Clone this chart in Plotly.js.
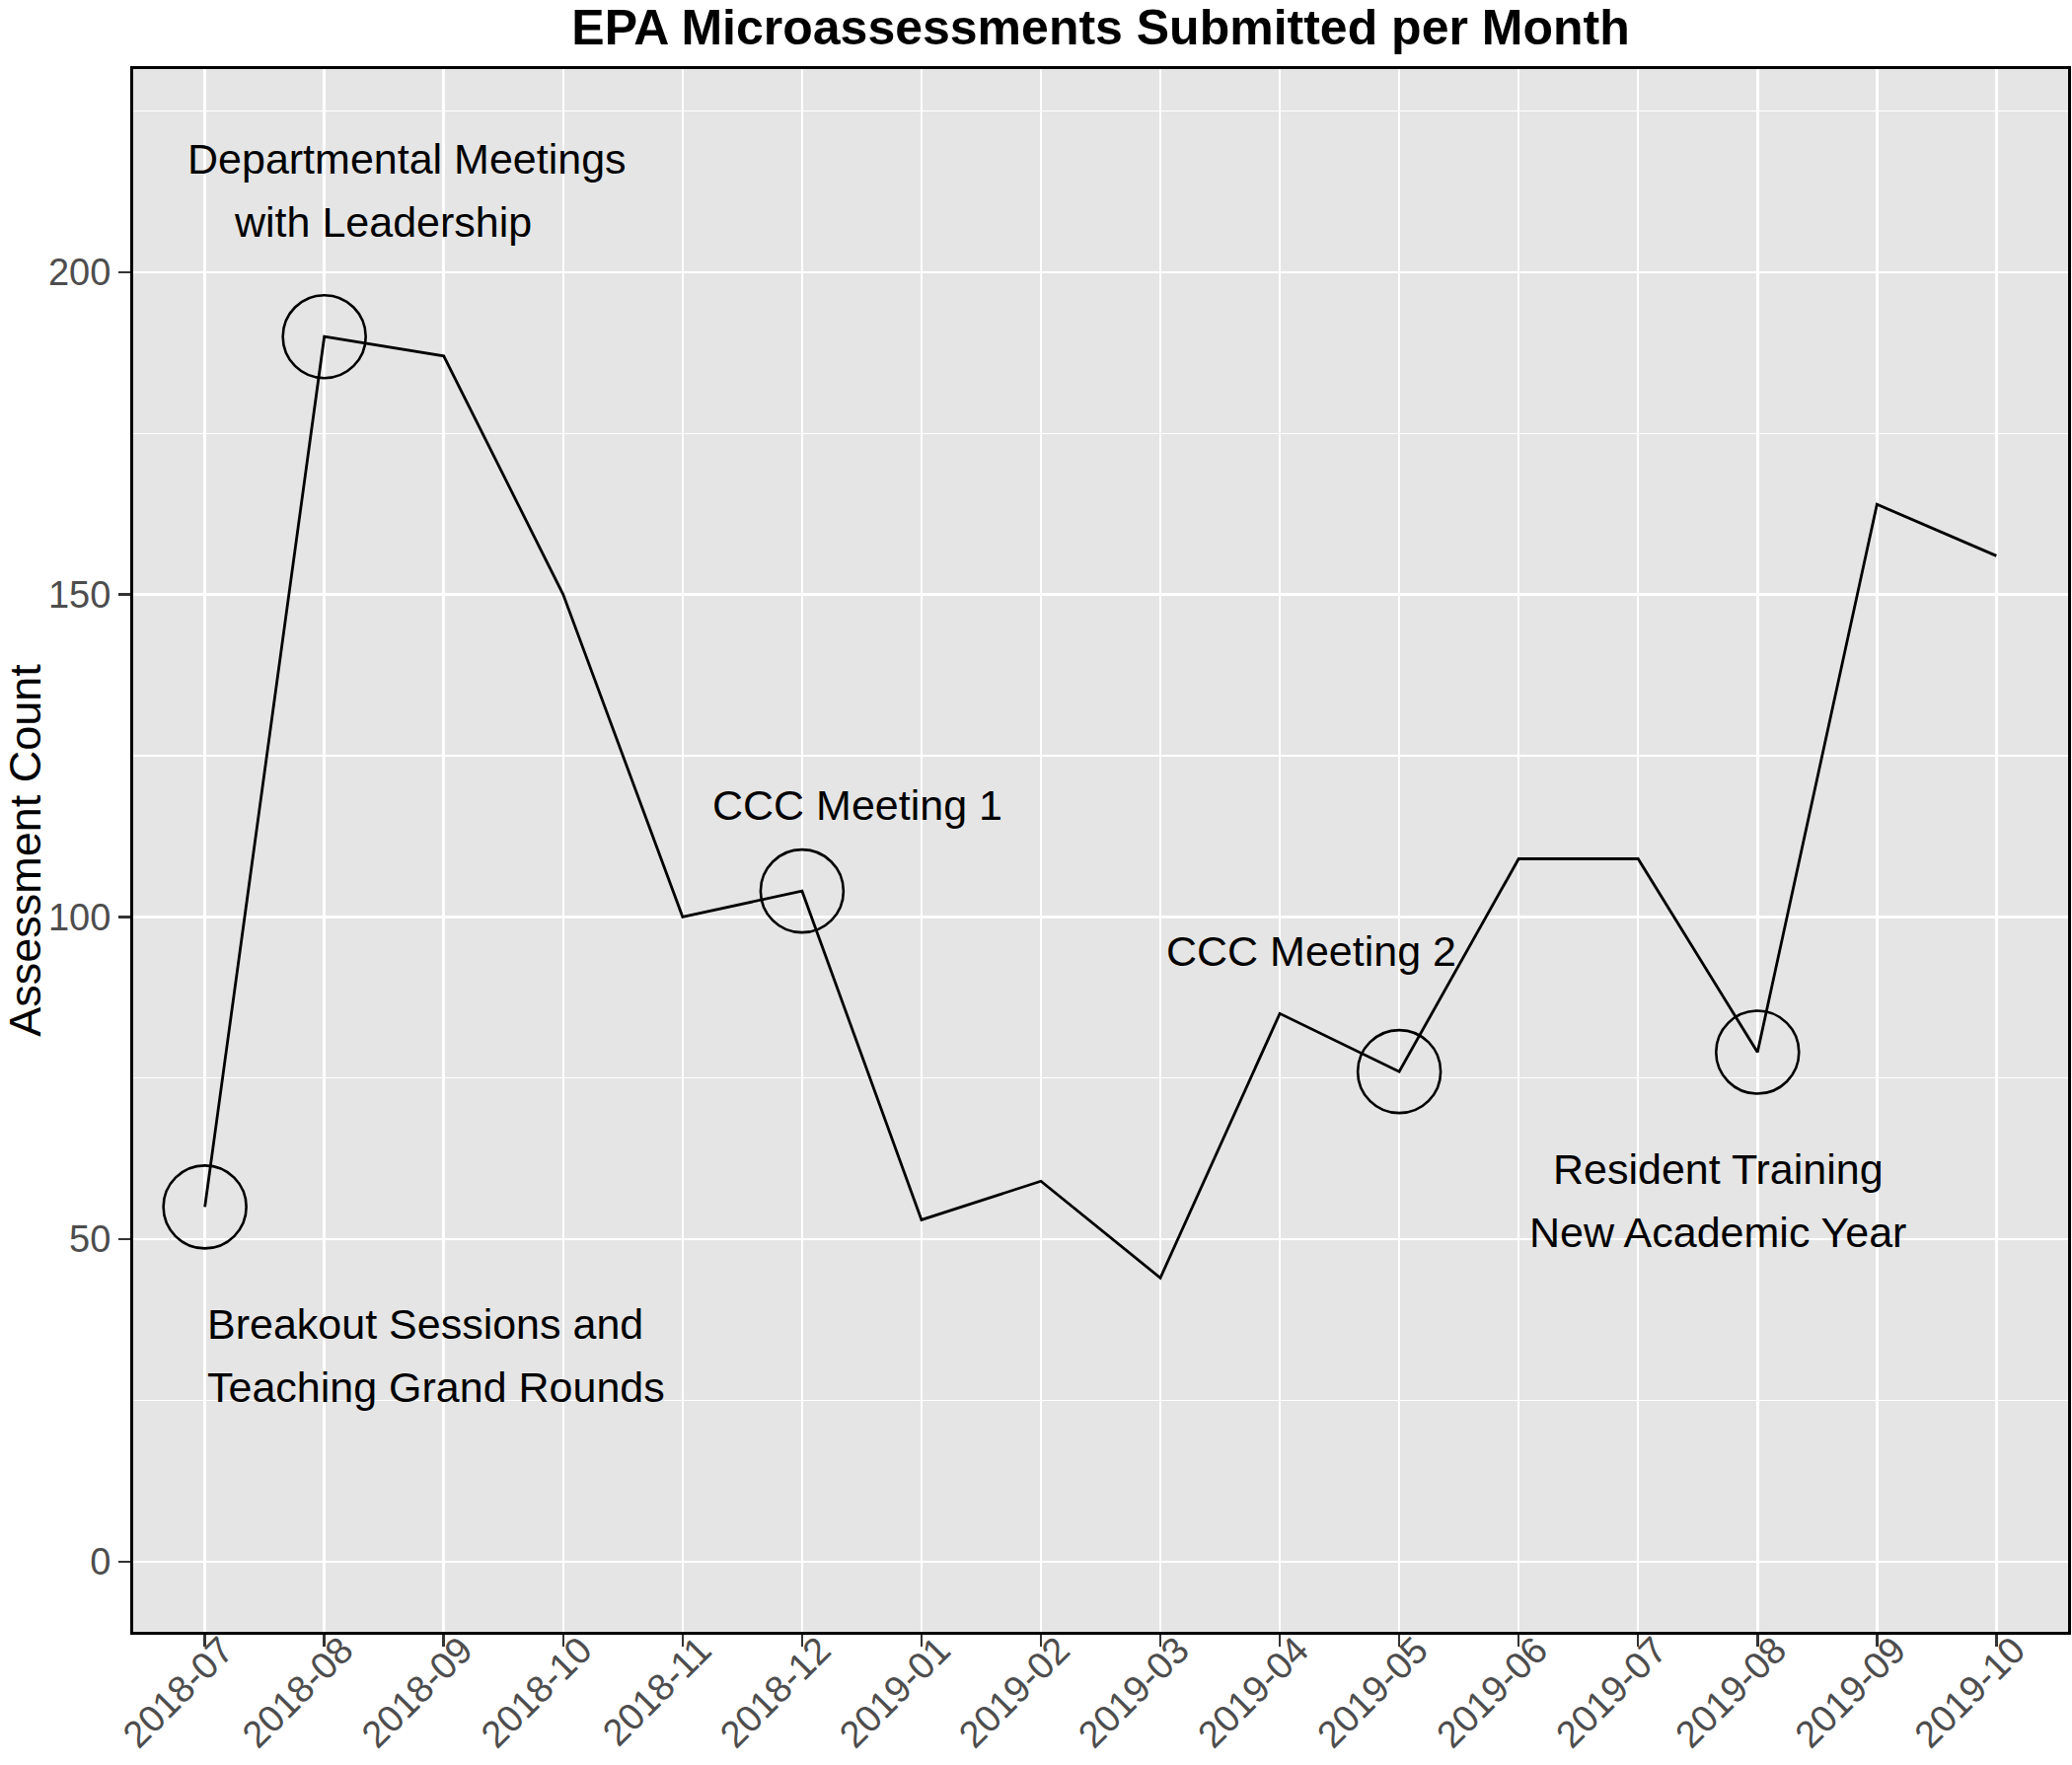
<!DOCTYPE html>
<html>
<head>
<meta charset="utf-8">
<script src="https://cdn.plot.ly/plotly-3.0.1.min.js"></script>
<style>
  html, body { margin: 0; padding: 0; background: #ffffff; }
  #chart { width: 2100px; height: 1789px; }
</style>
</head>
<body>
<div id="chart"></div>
<script>
// ---- data ----
const months = ['2018-07','2018-08','2018-09','2018-10','2018-11','2018-12','2019-01','2019-02',
                '2019-03','2019-04','2019-05','2019-06','2019-07','2019-08','2019-09','2019-10'];
const counts = [55, 190, 187, 150, 100, 104, 53, 59, 44, 85, 76, 109, 109, 79, 164, 156];
const highlightMonths = ['2018-07','2018-08','2018-12','2019-05','2019-08'];
const highlightCounts = highlightMonths.map(m => counts[months.indexOf(m)]);
const yTicks = [0, 50, 100, 150, 200];

const titleText = 'EPA Microassessments Submitted per Month';
const yTitle = 'Assessment Count';
const noteLines = ['Departmental Meetings', 'with Leadership',
                   'Breakout Sessions and', 'Teaching Grand Rounds',
                   'CCC Meeting 1', 'CCC Meeting 2',
                   'Resident Training', 'New Academic Year'];

// ---- layout helpers (positions of labels, not data) ----
const FONT = 'Liberation Sans, Arial, Helvetica, sans-serif';
const notePos = [
  {x: 1.69, y: 217.5, xa: 'center'},
  {x: 1.49, y: 207.8, xa: 'center'},
  {x: 0.0,  y: 36.8,  xa: 'left'},
  {x: 0.0,  y: 27.1,  xa: 'left'},
  {x: 5.46, y: 117.3, xa: 'center'},
  {x: 9.26, y: 94.7,  xa: 'center'},
  {x: 12.67, y: 60.8, xa: 'center'},
  {x: 12.67, y: 51.1, xa: 'center'}
];

const annotations = noteLines.map((t, i) => ({
  text: t,
  xref: 'x', yref: 'y',
  x: notePos[i].x, y: notePos[i].y,
  xanchor: notePos[i].xa, yanchor: 'middle',
  showarrow: false,
  font: {family: FONT, size: 43, color: '#000000'}
}));

const traces = [
  {
    type: 'scatter', mode: 'lines',
    x: months, y: counts,
    line: {color: '#000000', width: 2.8},
    hoverinfo: 'x+y', showlegend: false
  },
  {
    type: 'scatter', mode: 'markers',
    x: highlightMonths, y: highlightCounts,
    marker: {symbol: 'circle-open', size: 84, color: '#000000', line: {color: '#000000', width: 2.6}},
    hoverinfo: 'x+y', showlegend: false
  }
];

const layout = {
  width: 2100, height: 1789,
  paper_bgcolor: '#ffffff',
  plot_bgcolor: '#E5E5E5',
  margin: {l: 135, r: 4, t: 70, b: 135, pad: 0},
  showlegend: false,
  title: {
    text: '<b>' + titleText + '</b>',
    font: {family: FONT, size: 50, color: '#000000'},
    xref: 'paper', x: 0.5, xanchor: 'center',
    yref: 'container', y: 1 - 27 / 1789, yanchor: 'middle'
  },
  xaxis: {
    type: 'category',
    range: [-0.6, 15.6],
    tickangle: -45,
    tickfont: {family: FONT, size: 38, color: '#4D4D4D'},
    ticks: 'outside', ticklen: 12, tickwidth: 2.5, tickcolor: '#333333',
    ticklabelstandoff: -34, ticklabelshift: 18,
    showgrid: true, gridcolor: '#FFFFFF', gridwidth: 2.5,
    showline: true, mirror: true, linecolor: '#000000', linewidth: 3,
    zeroline: false, automargin: false
  },
  yaxis: {
    range: [-10.9, 231.5],
    tickmode: 'array', tickvals: yTicks, ticktext: yTicks.map(String),
    tickfont: {family: FONT, size: 38, color: '#4D4D4D'},
    ticks: 'outside', ticklen: 12, tickwidth: 2.5, tickcolor: '#333333',
    showgrid: true, gridcolor: '#FFFFFF', gridwidth: 2.5,
    minor: {tick0: 0, dtick: 25, showgrid: true, gridcolor: '#FFFFFF', gridwidth: 1.3, ticks: ''},
    showline: true, mirror: true, linecolor: '#000000', linewidth: 3,
    zeroline: false, automargin: false,
    title: {text: yTitle, font: {family: FONT, size: 45, color: '#000000'}, standoff: 14}
  },
  annotations: annotations
};

Plotly.newPlot('chart', traces, layout, {displayModeBar: false, staticPlot: true});
</script>
</body>
</html>
